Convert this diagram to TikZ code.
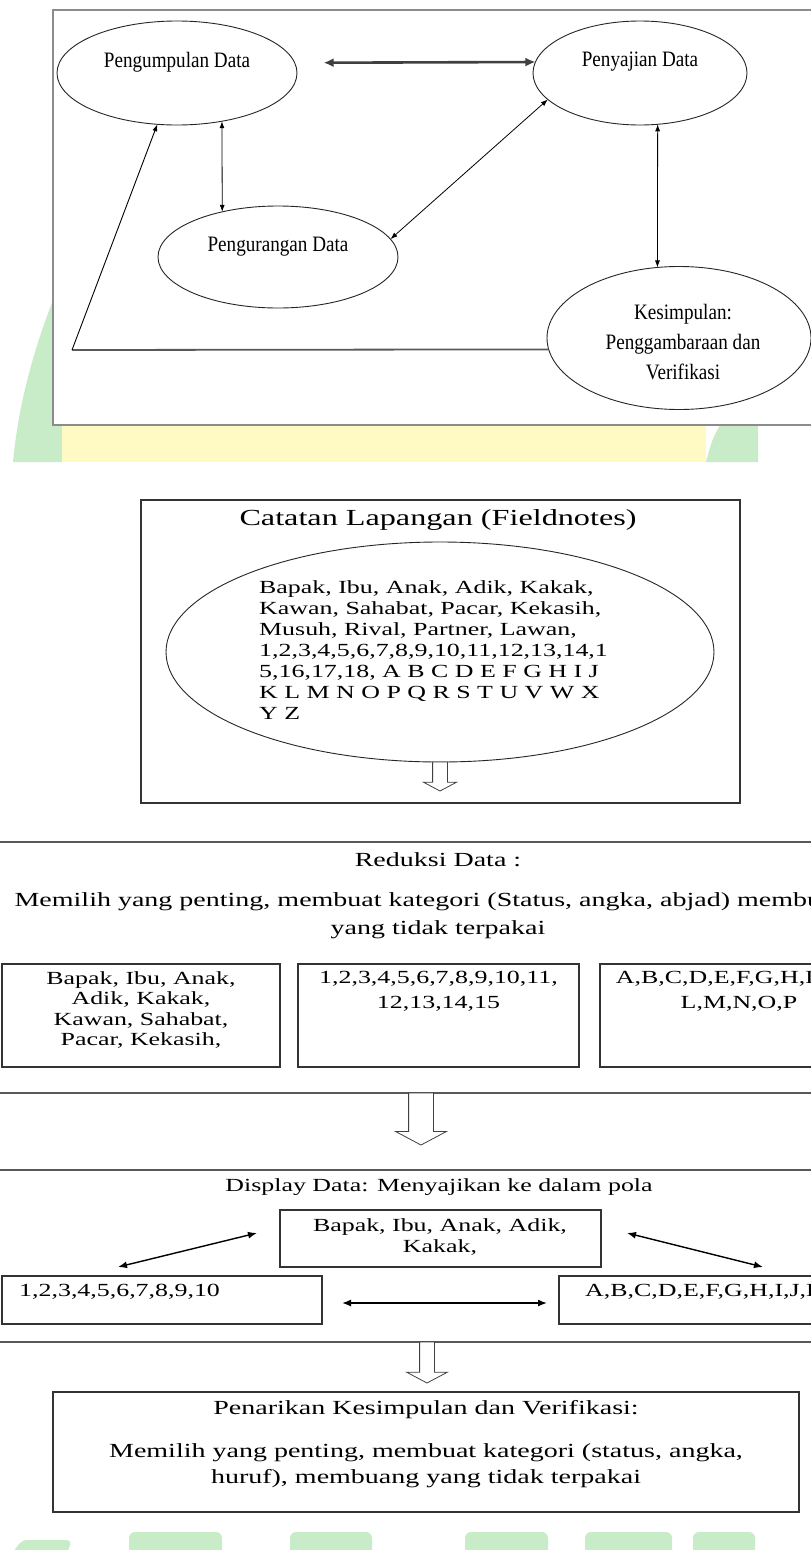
\documentclass[tikz,border=0pt]{standalone}
\usepackage{fontspec}
\setmainfont{Liberation Serif}
\newfontfamily\narrowserif[FakeStretch=0.87]{Liberation Serif}
\newfontfamily\wideserif[FakeStretch=1.4]{Liberation Serif}
\usepackage{xcolor}
\usetikzlibrary{shapes,arrows,arrows.meta,positioning,calc}
\definecolor{wmgreen}{RGB}{200,236,200}
\definecolor{wmyellow}{RGB}{255,250,196}

\begin{document}
\begin{tikzpicture}[x=1pt, y=-1pt,
  elp/.style={ellipse, draw=black!85, line width=0.9pt, fill=white, inner sep=0pt, outer sep=0pt},
  box/.style={rectangle, draw=black!80, line width=1.1pt, fill=white, inner sep=0pt, outer sep=0pt},
  band/.style={rectangle, draw=black!65, line width=1.4pt, fill=white, inner sep=0pt, outer sep=0pt},
  toptxt/.style={font=\narrowserif\fontsize{22}{30}\selectfont, align=center, inner sep=0pt},
  txt/.style={font=\wideserif\fontsize{18.5}{20.5}\selectfont, align=center, inner sep=0pt},
  headtxt/.style={font=\wideserif\fontsize{20}{28}\selectfont, align=center, inner sep=0pt},
  dblarrow/.style={{Latex[length=7pt,width=5pt]}-{Latex[length=7pt,width=5pt]}, line width=0.8pt},
  dblheavy/.style={{Latex[length=10pt,width=9pt]}-{Latex[length=10pt,width=9pt]}, line width=2.6pt, draw=black!75},
  dblthick/.style={{Latex[length=9pt,width=7pt]}-{Latex[length=9pt,width=7pt]}, line width=1.4pt},
  hollow/.style={single arrow, draw=black!75, line width=0.8pt, fill=white, rotate=-90, anchor=tail, inner xsep=0pt, outer sep=0pt, single arrow tip angle=124}
]
\useasboundingbox (0,0) rectangle (811,1550);
\clip (0,0) rectangle (811,1550);
\fill[white] (0,0) rectangle (811,1550);

% Watermark
\fill[wmgreen] (53,300) .. controls (30,360) and (18,410) .. (13,462) -- (62,462) -- (62,425) -- (53,425) -- cycle;
\fill[wmyellow] (62,425) rectangle (706,462);
\fill[wmgreen] (720,425) .. controls (712,440) .. (706,462) -- (758,462) -- (758,425) -- cycle;
\fill[wmgreen, rounded corners=5pt] (10,1556) -- (22,1540) -- (72,1540) -- (66,1556) -- cycle;
\fill[wmgreen, rounded corners=6pt] (129,1556) rectangle (222,1532);
\fill[wmgreen, rounded corners=6pt] (290,1556) rectangle (372,1532);
\fill[wmgreen, rounded corners=6pt] (465,1556) rectangle (548,1532);
\fill[wmgreen, rounded corners=6pt] (585,1556) rectangle (672,1532);
\fill[wmgreen, rounded corners=6pt] (693,1556) rectangle (755,1532);

% Siklus analisis
\node[rectangle, draw=black!45, line width=1.6pt, fill=white, minimum width=800pt, minimum height=415pt] (frm) at (453,217.5) {};

\node[elp, minimum width=240pt, minimum height=104pt] (kum) at (177,73) {};
\node[toptxt] (tkum) at (177,62) {Pengumpulan Data};
\node[elp, minimum width=214pt, minimum height=104pt] (saji) at (640,73) {};
\node[toptxt] (tsaji) at (640,62) {Penyajian Data};
\node[elp, minimum width=240pt, minimum height=102pt] (kur) at (278,257) {};
\node[toptxt] (tkur) at (278,247) {Pengurangan Data};
\node[elp, minimum width=264pt, minimum height=143pt] (simp) at (679,338) {};
\node[toptxt] (tsimp) at (683,342) {Kesimpulan:\\Penggambaraan dan\\Verifikasi};

\draw[dblheavy] ([xshift=29pt]kum.5) -- (saji.174);
\draw[dblarrow] (kum.-47) -- (kur.141);
\draw[dblarrow] (kur.9) -- (saji.196);
\draw[dblarrow] (saji.-71) -- (simp.107);
\coordinate (lp) at (72,350);
\draw[line width=1.8pt, draw=black!65] (simp.185) -- (lp);
\draw[-{Latex[length=7pt,width=5pt]}, line width=0.9pt] (lp) -- (kum.-111);

% Catatan lapangan
\node[box, minimum width=599pt, minimum height=303pt] (cat) at (440.5,651.5) {};
\node[txt, font=\wideserif\fontsize{23}{26}\selectfont] (tcat) at (438,520) {Catatan Lapangan (Fieldnotes)};
\node[elp, minimum width=548pt, minimum height=220pt] (fld) at (440,652) {};
\node[txt, font=\wideserif\fontsize{18.5}{21}\selectfont, align=left, anchor=north west] (tfld) at (259,580) {Bapak, Ibu, Anak, Adik, Kakak,\\Kawan, Sahabat, Pacar, Kekasih,\\Musuh, Rival, Partner, Lawan,\\1,2,3,4,5,6,7,8,9,10,11,12,13,14,1\\5,16,17,18, A B C D E F G H I J\\K L M N O P Q R S T U V W X\\Y Z};
\node[hollow, minimum height=29pt, inner ysep=7pt, single arrow head extend=9pt] (ha1) at (fld.south) {};

% Reduksi data
\node[band, minimum width=880pt, minimum height=251pt] (red) at (420,967.5) {};
\node[headtxt] (tred) at (438,860) {Reduksi Data :};
\node[headtxt] (tred2) at (438,916) {Memilih yang penting, membuat kategori (Status, angka, abjad) membuang\\yang tidak terpakai};
\node[box, minimum width=278pt, minimum height=103pt] (b1) at (141,1015.5) {};
\node[txt, below=7pt of b1.north] (tb1) {Bapak, Ibu, Anak,\\Adik, Kakak,\\Kawan, Sahabat,\\Pacar, Kekasih,};
\node[box, minimum width=281pt, minimum height=103pt] (b2) at (438.5,1015.5) {};
\node[txt, font=\wideserif\fontsize{18.5}{25}\selectfont, below=7pt of b2.north] (tb2) {1,2,3,4,5,6,7,8,9,10,11,\\12,13,14,15};
\node[box, minimum width=278pt, minimum height=103pt] (b3) at (739,1015.5) {};
\node[txt, font=\wideserif\fontsize{18.5}{25}\selectfont, below=7pt of b3.north] (tb3) {A,B,C,D,E,F,G,H,I,J,K,\\L,M,N,O,P};
\node[hollow, minimum height=52pt, inner ysep=12pt, single arrow head extend=13pt] (ha2) at (red.south -| 421,0) {};

% Display data
\node[band, minimum width=880pt, minimum height=172pt] (disp) at (420,1256) {};
\node[txt] (tdisp) at (439,1187) {Display Data: Menyajikan ke dalam pola};
\node[box, minimum width=321pt, minimum height=57pt] (tb) at (440.5,1238.5) {};
\node[txt] (ttb) at (440,1237) {Bapak, Ibu, Anak, Adik,\\Kakak,};
\node[box, minimum width=320pt, minimum height=48pt] (lb) at (162,1300) {};
\node[txt, anchor=west] (tlb) at (19,1292) {1,2,3,4,5,6,7,8,9,10};
\node[box, minimum width=320pt, minimum height=48pt] (rb) at (719,1300) {};
\node[txt, anchor=west] (trb) at (585,1292) {A,B,C,D,E,F,G,H,I,J,K};
\coordinate (al1) at (257,1233);
\coordinate (al2) at (118,1267);
\coordinate (ar1) at (627,1233);
\coordinate (ar2) at (763,1267);
\coordinate (am1) at (342,1303);
\coordinate (am2) at (547,1303);
\draw[dblthick] (al1) -- (al2);
\draw[dblthick] (ar1) -- (ar2);
\draw[dblthick] (am1) -- (am2);
\node[hollow, minimum height=41pt, inner ysep=7pt, single arrow head extend=13pt] (ha3) at (disp.south -| 427,0) {};

% Penarikan kesimpulan
\node[box, minimum width=746pt, minimum height=120pt] (pk) at (426,1452) {};
\node[headtxt] (tpk) at (426,1410) {Penarikan Kesimpulan dan Verifikasi:};
\node[headtxt, font=\wideserif\fontsize{20}{26}\selectfont] (tpk2) at (426,1466) {Memilih yang penting, membuat kategori (status, angka,\\huruf), membuang yang tidak terpakai};
\end{tikzpicture}
\end{document}
